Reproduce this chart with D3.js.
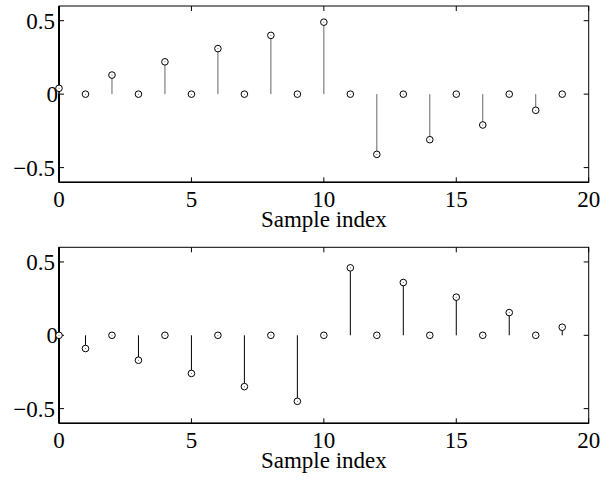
<!DOCTYPE html>
<html>
<head>
<meta charset="utf-8">
<script src="https://cdn.jsdelivr.net/npm/d3@7"></script>
<style>
  body { margin: 0; background: #fff; }
</style>
</head>
<body>
<div id="chart"></div>
<script>
// sample indices and the two stem series
const sampleIndex = d3.range(0, 20);
const topValues = [0.04, 0, 0.13, 0, 0.22, 0, 0.31, 0, 0.40, 0, 0.49, 0, -0.41, 0, -0.31, 0, -0.21, 0, -0.11, 0];
const bottomValues = [0, -0.09, 0, -0.17, 0, -0.26, 0, -0.35, 0, -0.45, 0, 0.46, 0, 0.36, 0, 0.26, 0, 0.155, 0, 0.055];
const xTicks = [0, 5, 10, 15, 20];
const yTicks = [-0.5, 0, 0.5];
const yTickLabels = ["\u22120.5", "0", "0.5"];
const xLabel = "Sample index";

const FONT = "'Liberation Serif', 'Times New Roman', 'DejaVu Serif', serif";
const width = 615, height = 477;
const svg = d3.select("#chart").append("svg")
    .attr("width", width)
    .attr("height", height)
    .attr("font-family", FONT);

const left = 59, right = 588.7;
const x = d3.scaleLinear().domain([0, 20]).range([left, right]);

function panel(values, top, bottom, stemColor) {
    const y = d3.scaleLinear().domain([-0.6, 0.6]).range([bottom, top]);
    const g = svg.append("g");

    // box
    g.append("rect")
        .attr("x", left).attr("y", top)
        .attr("width", right - left).attr("height", bottom - top)
        .attr("fill", "none").attr("stroke", "#000").attr("stroke-width", 1);

    // inward ticks on all four sides
    const tl = 5;
    xTicks.forEach(t => {
        g.append("line").attr("x1", x(t)).attr("x2", x(t))
            .attr("y1", bottom).attr("y2", bottom - tl).attr("stroke", "#000");
        g.append("line").attr("x1", x(t)).attr("x2", x(t))
            .attr("y1", top).attr("y2", top + tl).attr("stroke", "#000");
        g.append("text")
            .attr("x", x(t)).attr("y", bottom + 25)
            .attr("text-anchor", "middle")
            .attr("font-family", FONT)
            .style("font-size", "23px")
            .text(t);
    });
    yTicks.forEach((t, i) => {
        g.append("line").attr("x1", left).attr("x2", left + tl)
            .attr("y1", y(t)).attr("y2", y(t)).attr("stroke", "#000");
        g.append("line").attr("x1", right).attr("x2", right - tl)
            .attr("y1", y(t)).attr("y2", y(t)).attr("stroke", "#000");
        g.append("text")
            .attr("x", t === 0 ? left - 1 : left - 4).attr("y", y(t) + 8)
            .attr("text-anchor", "end")
            .attr("font-family", FONT)
            .style("font-size", "23px")
            .text(yTickLabels[i]);
    });

    // thicker left and bottom axis
    g.append("line").attr("x1", left).attr("x2", left)
        .attr("y1", top).attr("y2", bottom).attr("stroke", "#000").attr("stroke-width", 2);
    g.append("line").attr("x1", left).attr("x2", right)
        .attr("y1", bottom).attr("y2", bottom).attr("stroke", "#000").attr("stroke-width", 1.5);

    // stems
    g.selectAll(".stem").data(values).enter().append("line")
        .attr("x1", (d, i) => x(sampleIndex[i]))
        .attr("x2", (d, i) => x(sampleIndex[i]))
        .attr("y1", y(0))
        .attr("y2", d => y(d))
        .attr("stroke", stemColor)
        .attr("stroke-width", 1);

    // markers (open circles with a tiny centre dot)
    g.selectAll(".mk").data(values).enter().append("circle")
        .attr("cx", (d, i) => x(sampleIndex[i]))
        .attr("cy", d => y(d))
        .attr("r", 3.3)
        .attr("fill", "#fff")
        .attr("stroke", "#000")
        .attr("stroke-width", 1);
    g.selectAll(".dot").data(values).enter().append("circle")
        .attr("cx", (d, i) => x(sampleIndex[i]))
        .attr("cy", d => y(d))
        .attr("r", 0.5)
        .attr("fill", "#555");

    g.append("text")
        .attr("x", (left + right) / 2).attr("y", bottom + 45)
        .attr("text-anchor", "middle")
        .attr("font-family", FONT)
        .style("font-size", "23px")
        .text(xLabel);
}

panel(topValues, 6, 182.3, "#666");
panel(bottomValues, 247.3, 423.3, "#000");
</script>
</body>
</html>
